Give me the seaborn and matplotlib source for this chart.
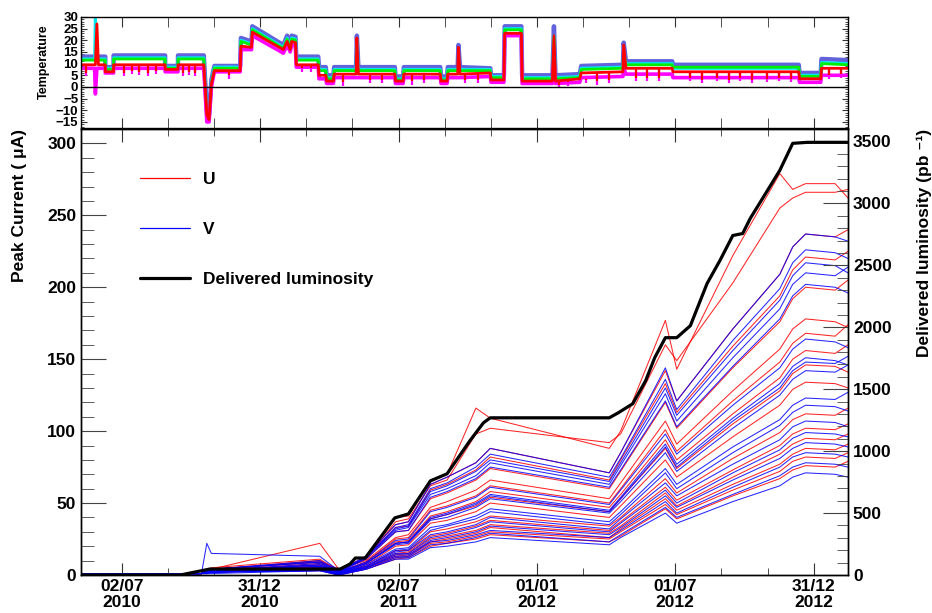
import pandas as pd
import seaborn as sns
import matplotlib.pyplot as plt
from matplotlib.lines import Line2D
from matplotlib.ticker import MultipleLocator

sns.set_style('ticks')
plt.rcParams['font.family'] = ['Liberation Sans', 'DejaVu Sans']
plt.rcParams['font.weight'] = 'bold'
plt.rcParams['axes.labelweight'] = 'bold'
plt.rcParams['text.color'] = 'black'

# === Peak current per channel, read at common dates ===
CUR_DATES = ["2010-05-09", "2010-10-15", "2010-10-22", "2010-10-28", "2011-03-20",
             "2011-04-14", "2011-05-20", "2011-06-28", "2011-07-15", "2011-08-13",
             "2011-09-04", "2011-10-12", "2011-10-31", "2012-04-05", "2012-04-20",
             "2012-06-18", "2012-07-03", "2012-09-15", "2012-11-16", "2012-12-03",
             "2012-12-20", "2013-01-28", "2013-02-14"]

U_CURRENT = [
    [1, 1, 4, 4, 9, 3, 12, 40, 41, 66, 70, 116, 109, 88, 100, 177, 143, 222, 279, 268, 272, 272, 262],
    [0, 1, 3, 3, 10, 4, 11, 37, 39, 62, 66, 98, 102, 92, 98, 160, 149, 203, 255, 262, 266, 266, 268],
    [1, 1, 4, 5, 11, 3, 13, 35, 37, 63, 68, 78, 88, 71, 85, 142, 121, 171, 209, 228, 237, 235, 240],
    [1, 1, 3, 4, 10, 2, 12, 33, 34, 59, 63, 73, 82, 66, 80, 133, 113, 159, 194, 212, 221, 219, 225],
    [1, 1, 4, 4, 9, 3, 11, 30, 31, 53, 57, 66, 74, 60, 72, 120, 102, 144, 176, 192, 200, 198, 205],
    [0, 1, 3, 4, 22, 4, 10, 26, 28, 47, 51, 59, 66, 53, 64, 107, 91, 128, 157, 171, 178, 176, 172],
    [1, 1, 3, 3, 8, 2, 9, 25, 26, 45, 48, 55, 62, 50, 60, 101, 86, 121, 148, 161, 168, 166, 174],
    [1, 1, 3, 3, 7, 2, 9, 23, 24, 41, 44, 51, 58, 47, 56, 94, 80, 112, 137, 150, 156, 154, 160],
    [1, 1, 2, 3, 7, 2, 8, 22, 23, 39, 42, 48, 54, 44, 53, 88, 74, 105, 128, 140, 146, 145, 141],
    [0, 1, 3, 3, 6, 1, 7, 20, 21, 36, 38, 44, 50, 40, 48, 80, 68, 96, 118, 129, 134, 133, 130],
    [1, 1, 2, 2, 6, 2, 6, 17, 17, 30, 32, 37, 41, 34, 40, 67, 57, 81, 99, 108, 112, 111, 116],
    [0, 1, 2, 3, 5, 1, 6, 15, 16, 27, 29, 34, 38, 31, 37, 61, 52, 73, 90, 98, 102, 101, 105],
    [1, 1, 2, 2, 5, 1, 5, 14, 15, 25, 27, 31, 35, 29, 34, 57, 48, 68, 84, 91, 95, 94, 98],
    [0, 1, 2, 2, 4, 1, 5, 13, 14, 23, 25, 29, 33, 26, 32, 53, 45, 63, 77, 84, 88, 87, 91],
    [1, 1, 2, 2, 4, 1, 5, 12, 13, 22, 23, 27, 30, 25, 30, 49, 42, 59, 72, 79, 82, 81, 85],
    [0, 1, 1, 2, 3, 0, 4, 11, 12, 20, 22, 25, 28, 23, 27, 46, 39, 55, 67, 73, 76, 75, 79],
]

V_CURRENT = [
    [1, 1, 22, 15, 13, 3, 13, 35, 37, 63, 68, 78, 88, 71, 85, 144, 121, 171, 209, 228, 237, 235, 232],
    [1, 1, 4, 4, 10, 3, 12, 33, 35, 60, 64, 75, 84, 68, 81, 136, 115, 163, 199, 217, 226, 224, 220],
    [0, 1, 3, 4, 9, 2, 12, 32, 34, 58, 62, 72, 80, 65, 78, 130, 111, 156, 191, 208, 217, 215, 210],
    [1, 1, 3, 4, 9, 3, 12, 31, 33, 56, 60, 69, 78, 63, 76, 126, 107, 151, 185, 202, 210, 208, 214],
    [1, 1, 3, 3, 8, 2, 11, 30, 31, 54, 58, 67, 75, 61, 73, 121, 103, 145, 178, 194, 202, 200, 196],
    [0, 1, 3, 3, 7, 2, 9, 24, 25, 44, 47, 54, 61, 49, 59, 98, 84, 118, 144, 157, 164, 162, 158],
    [1, 1, 2, 3, 7, 2, 8, 22, 23, 40, 43, 50, 56, 45, 54, 91, 77, 109, 133, 145, 151, 149, 146],
    [1, 1, 3, 3, 6, 2, 8, 22, 23, 39, 42, 49, 55, 44, 53, 89, 75, 107, 130, 142, 148, 147, 152],
    [0, 1, 2, 3, 6, 1, 8, 21, 22, 38, 40, 47, 53, 43, 51, 85, 72, 102, 125, 136, 142, 141, 146],
    [1, 1, 2, 2, 5, 1, 7, 18, 19, 33, 35, 41, 46, 37, 44, 74, 63, 89, 108, 118, 123, 122, 127],
    [0, 1, 2, 2, 5, 1, 6, 17, 18, 31, 34, 39, 44, 35, 42, 71, 60, 85, 104, 113, 118, 117, 114],
    [1, 1, 2, 2, 4, 1, 6, 16, 17, 28, 30, 35, 40, 32, 39, 64, 55, 77, 94, 103, 107, 106, 103],
    [0, 1, 2, 2, 4, 1, 5, 15, 15, 26, 28, 33, 37, 30, 36, 59, 50, 71, 87, 95, 99, 98, 96],
    [1, 1, 1, 2, 4, 0, 5, 14, 14, 24, 26, 30, 34, 28, 33, 55, 47, 66, 81, 88, 92, 91, 89],
    [0, 1, 1, 2, 3, 1, 5, 13, 13, 23, 24, 28, 31, 26, 31, 51, 43, 61, 75, 82, 85, 84, 82],
    [1, 1, 1, 2, 3, 0, 4, 12, 12, 21, 22, 26, 29, 23, 28, 47, 40, 56, 69, 75, 78, 77, 75],
    [0, 1, 1, 1, 3, 0, 4, 11, 11, 19, 20, 23, 26, 21, 26, 43, 36, 51, 62, 68, 71, 70, 68],
]

# === Delivered luminosity (pb^-1) ===
LUMI_DATES = ["2010-05-09", "2010-09-17", "2010-10-26", "2011-04-16", "2011-04-29",
              "2011-05-06", "2011-05-19", "2011-06-27", "2011-07-15", "2011-08-13",
              "2011-09-04", "2011-10-04", "2011-10-22", "2011-10-31", "2012-04-05",
              "2012-04-17", "2012-05-06", "2012-05-23", "2012-06-04", "2012-06-18",
              "2012-07-03", "2012-07-21", "2012-08-12", "2012-08-29", "2012-09-15",
              "2012-09-28", "2012-10-08", "2012-10-21", "2012-11-16", "2012-12-03",
              "2012-12-22", "2013-02-14"]
LUMI = [0, 0, 48, 48, 89, 137, 137, 461, 493, 760, 817, 1083, 1229, 1269, 1269,
        1310, 1383, 1569, 1755, 1916, 1916, 2013, 2353, 2539, 2741, 2757, 2879,
        3008, 3267, 3485, 3493, 3493]

# === Temperature sensors (top pad) ===
TEMP_DATES = ["2010-05-09", "2010-05-27", "2010-05-28", "2010-05-30", "2010-06-01",
              "2010-06-10", "2010-06-10", "2010-06-21", "2010-06-21", "2010-08-28",
              "2010-08-28", "2010-09-14", "2010-09-14", "2010-10-18", "2010-10-22",
              "2010-10-25", "2010-10-28", "2010-11-01", "2010-12-05", "2010-12-06",
              "2010-12-20", "2010-12-21", "2011-01-31", "2011-02-05", "2011-02-09",
              "2011-02-11", "2011-02-16", "2011-02-17", "2011-03-18", "2011-03-19",
              "2011-03-28", "2011-03-29", "2011-04-07", "2011-04-08", "2011-05-07",
              "2011-05-08", "2011-05-10", "2011-06-27", "2011-06-28", "2011-07-08",
              "2011-07-09", "2011-08-26", "2011-08-27", "2011-09-04", "2011-09-05",
              "2011-09-18", "2011-09-19", "2011-09-21", "2011-10-31", "2011-11-01",
              "2011-11-18", "2011-11-19", "2011-12-11", "2011-12-12", "2012-01-21",
              "2012-01-23", "2012-01-25", "2012-02-26", "2012-02-28", "2012-04-23",
              "2012-04-24", "2012-04-27", "2012-06-27", "2012-06-28", "2012-12-11",
              "2012-12-12", "2013-01-09", "2013-01-10", "2013-02-14"]
TEMP_BLUE = [13, 13, 13, 13, 13, 13, 8.5, 8.5, 13.5, 13.5, 9, 9, 13.5, 13.5, -10, -12, 3, 9, 9, 21,
             19.5, 26, 18, 22, 18, 22, 21.5, 13, 13, 8.5, 8.5, 5, 5, 8.5, 8.5, 22, 8.5, 8.5, 4.5, 4.5,
             8.5, 8.5, 4.5, 4.5, 8.5, 8.5, 18, 8.5, 8, 5, 5, 26, 26, 5, 5, 26, 5, 5.5, 9, 9.5,
             19, 11, 11, 9.5, 9.5, 6, 6, 12, 11.5]
TEMP_CYAN = [12, 12, 30, 12, 12, 12, 8, 8, 12.5, 12.5, 8.5, 8.5, 12.5, 12.5, -11, -13, 2, 8.5, 8.5, 20,
             18.5, 25, 17, 21, 17, 21, 20.5, 12, 12, 7.5, 7.5, 4, 4, 7.5, 7.5, 20, 7.5, 7.5, 3.5, 3.5,
             7.5, 7.5, 3.5, 3.5, 7.5, 7.5, 8, 7.5, 7.5, 4.5, 4.5, 25, 25, 4, 4, 22, 4, 4.5, 8, 8.5,
             15, 10, 10, 8, 8, 5, 5, 10.5, 10]
TEMP_GREEN = [11.5, 11.5, 11.5, 11.5, 11.5, 11.5, 7.5, 7.5, 12, 12, 8, 8, 12, 12, -11, -13, 2, 8, 8, 19.5,
              18, 24.5, 16.5, 20.5, 16.5, 20.5, 20, 11.5, 11.5, 7, 7, 3.5, 3.5, 7, 7, 7.5, 7, 7, 3, 3,
              7, 7, 3, 3, 7, 7, 7.5, 7, 7, 4, 4, 24.5, 24.5, 3.5, 3.5, 21, 3.5, 4, 7.5, 8,
              14, 9.5, 9.5, 8.5, 8.5, 4.5, 4.5, 10, 9.5]
TEMP_MAGENTA = [8, 8, -3, 8, 8, 8, 6, 6, 8, 8, 6.5, 6.5, 8, 8, -15, -15, 0, 6.5, 6.5, 16,
                16, 22, 14.5, 18, 15, 18, 17.5, 8.5, 8.5, 3.5, 3.5, 1.5, 1.5, 4, 4, 4, 4, 4, 1.5, 1.5,
                4, 4, 1.5, 1.5, 4, 4, 4, 4, 4.5, 2, 2, 22, 22, 1.5, 1.5, 15, 1.5, 2, 4, 4.5,
                8, 5.5, 5.5, 4, 4, 2, 2, 5, 5]
TEMP_RED = [9.5, 9.5, 9.5, 27, 9.5, 9.5, 6.5, 6.5, 9.5, 9.5, 7.5, 7.5, 9.5, 9.5, -12, -14, 1, 7, 7, 17.5,
            17, 23.5, 16, 19.5, 16, 19.5, 19, 9.5, 9.5, 5, 5, 2.5, 2.5, 5.5, 5.5, 21, 5.5, 5.5, 2.5, 2.5,
            5.5, 5.5, 2.5, 2.5, 5.5, 5.5, 17, 5.5, 6, 3, 3, 23, 23, 2.5, 2.5, 22, 2.5, 3.5, 6, 6.5,
            18, 8, 8, 6.5, 6.5, 3.5, 3.5, 8, 8]

# short downward excursions of the red / magenta sensors
DIP_DATES = ["2010-05-15", "2010-07-05", "2010-07-15", "2010-07-24", "2010-08-05", "2010-08-16",
             "2010-09-20", "2010-09-28", "2010-10-06", "2010-11-20", "2011-02-25", "2011-03-08",
             "2011-04-20", "2011-05-25", "2011-06-10", "2011-07-20", "2011-08-05", "2011-09-28",
             "2011-10-15", "2012-01-30", "2012-02-10", "2012-03-05", "2012-03-20", "2012-04-05",
             "2012-05-10", "2012-05-25", "2012-06-10", "2012-07-20", "2012-08-05", "2012-08-25",
             "2012-09-10", "2012-09-25", "2012-10-10", "2012-10-30", "2012-11-15", "2012-12-01",
             "2013-01-20", "2013-02-05"]
DIP_LOW = [6, 6, 7, 6.5, 6, 7, 6, 6.5, 6, 5, 8, 8,
           2, 3, 3, 2.5, 3, 3, 3, 1, 2, 3, 2.5, 3,
           4, 4, 4, 4, 3, 4, 3, 4, 3, 3.5, 4, 3.5,
           5, 5.5]
DIP_TOP = [9.5, 9.5, 9.5, 9.5, 9.5, 9.5, 9.5, 9.5, 9.5, 7, 9.5, 9.5,
           5.5, 5.5, 5.5, 5.5, 5.5, 5.5, 5.5, 2.5, 2.5, 3.5, 6, 6,
           8, 8, 8, 6.5, 6.5, 6.5, 6.5, 6.5, 6.5, 6.5, 6.5, 6.5,
           8, 8]

TICK_DATES = ["2010-07-02", "2010-12-31", "2011-07-02", "2012-01-01", "2012-07-01", "2012-12-31"]
TICK_LABELS = ["02/07\n2010", "31/12\n2010", "02/07\n2011", "01/01\n2012", "01/07\n2012", "31/12\n2012"]
X_START, X_END = "2010-05-09", "2013-02-14"


def long_frame(rows, view):
    recs = []
    for i, vals in enumerate(rows):
        for d, v in zip(CUR_DATES, vals):
            recs.append({'date': d, 'current': v, 'channel': f'{view}{i}'})
    out = pd.DataFrame(recs)
    out['date'] = pd.to_datetime(out['date'])
    return out


df_u = long_frame(U_CURRENT, 'U')
df_v = long_frame(V_CURRENT, 'V')
df_lumi = pd.DataFrame({'date': pd.to_datetime(LUMI_DATES), 'lumi': LUMI})
df_temp = pd.DataFrame({'date': pd.to_datetime(TEMP_DATES), 'blue': TEMP_BLUE, 'cyan': TEMP_CYAN,
                        'green': TEMP_GREEN, 'magenta': TEMP_MAGENTA, 'red': TEMP_RED})

# === Figure: two pads like the ROOT canvas ===
fig = plt.figure(figsize=(9.32, 6.13), dpi=100)
ax_t = fig.add_axes([0.0869, 0.7912, 0.8230, 0.1811])
ax = fig.add_axes([0.0869, 0.0620, 0.8230, 0.7276])
ax2 = ax.twinx()

x0, x1 = pd.Timestamp(X_START), pd.Timestamp(X_END)
majors = pd.to_datetime(TICK_DATES)
minors = [a + (b - a) * k / 3 for a, b in zip(majors[:-1], majors[1:]) for k in (1, 2)]

# --- temperature pad ---
for col, color, lw in [('blue', '#6262dc', 3.2), ('cyan', '#00e8f0', 2.2), ('green', '#00ee00', 2.0),
                       ('magenta', '#ff00ff', 2.6), ('red', '#ff0000', 2.0)]:
    sns.lineplot(data=df_temp, x='date', y=col, color=color, lw=lw, sort=False,
                 estimator=None, ax=ax_t, legend=False)
dips = pd.to_datetime(DIP_DATES)
ax_t.vlines(dips, [v - 1.5 for v in DIP_LOW], DIP_TOP, color='#ff00ff', lw=1.6)
ax_t.vlines(dips, DIP_LOW, DIP_TOP, color='#ff0000', lw=1.6)
ax_t.axhline(0, color='black', lw=1)
ax_t.set_xlim(x0, x1)
ax_t.set_ylim(-17.6, 30)
ax_t.set_xlabel('')
ax_t.set_ylabel('')
ax_t.yaxis.set_major_locator(MultipleLocator(5))
ax_t.yaxis.set_minor_locator(MultipleLocator(1))
ax_t.set_xticks(majors)
ax_t.set_xticks(minors, minor=True)
ax_t.tick_params(axis='y', which='both', direction='in', left=True, right=True, labelsize=9.5,
                 pad=2, labelcolor='black', color='#333333')
ax_t.tick_params(axis='y', which='major', length=4)
ax_t.tick_params(axis='y', which='minor', length=2.5)
ax_t.tick_params(axis='x', which='both', direction='in', top=True, bottom=True,
                 labelbottom=False, length=7, color='#333333')
fig.text(44 / 932, 1 - 24 / 613, 'Temperature', rotation=90, ha='center', va='top',
         fontsize=9, fontweight='bold')

# --- peak currents ---
sns.lineplot(data=df_u, x='date', y='current', units='channel', estimator=None,
             color='#ff0000', lw=0.75, alpha=0.85, ax=ax, legend=False)
sns.lineplot(data=df_v, x='date', y='current', units='channel', estimator=None,
             color='#0000ff', lw=0.75, alpha=0.85, ax=ax, legend=False)
ax.set_xlim(x0, x1)
ax.set_ylim(0, 310)
ax.set_xlabel('')
ax.set_ylabel('')
ax.yaxis.set_major_locator(MultipleLocator(50))
ax.yaxis.set_minor_locator(MultipleLocator(10))
ax.set_xticks(majors)
ax.set_xticks(minors, minor=True)
ax.set_xticklabels(TICK_LABELS, linespacing=1.05)
ax.tick_params(axis='x', which='both', direction='in', top=True, bottom=True, labelsize=12.5,
               pad=3, labelcolor='black', color='#333333')
ax.tick_params(axis='x', which='major', length=9)
ax.tick_params(axis='x', which='minor', length=5)
ax.tick_params(axis='y', which='both', direction='in', left=True, right=False,
               labelsize=12.5, color='#444444', labelcolor='black')
ax.tick_params(axis='y', which='major', length=18)
ax.tick_params(axis='y', which='minor', length=9)

# --- delivered luminosity on right axis ---
sns.lineplot(data=df_lumi, x='date', y='lumi', color='black', lw=2.3, estimator=None,
             ax=ax2, legend=False)
ax2.set_ylim(0, 3601)
ax2.set_xlim(x0, x1)
ax2.set_ylabel('')
ax2.yaxis.set_major_locator(MultipleLocator(500))
ax2.yaxis.set_minor_locator(MultipleLocator(100))
ax2.tick_params(axis='y', which='both', direction='in', right=True, labelsize=12.5,
                color='#444444', labelcolor='black')
ax2.tick_params(axis='y', which='major', length=18)
ax2.tick_params(axis='y', which='minor', length=8)

for a in (ax_t, ax, ax2):
    for s in a.spines.values():
        s.set_color('black')
        s.set_linewidth(1.0)

fig.text(20 / 932, 1 - 129 / 613, 'Peak Current ( \u03bcA)', rotation=90, ha='center',
         va='top', fontsize=12.5, fontweight='bold')
fig.text(924 / 932, 1 - 129 / 613, 'Delivered luminosity (pb \u207b\u00b9)', rotation=90,
         ha='center', va='top', fontsize=12.5, fontweight='bold')

legend_elements = [
    Line2D([0], [0], color='#ff0000', lw=0.9, label='U'),
    Line2D([0], [0], color='#0000ff', lw=0.9, label='V'),
    Line2D([0], [0], color='black', lw=2.3, label='Delivered luminosity'),
]
ax2.legend(handles=legend_elements, loc='upper left', bbox_to_anchor=(0.077, 0.904),
           frameon=False, handlelength=2.9, handletextpad=0.7, labelspacing=2.0,
           borderpad=0, borderaxespad=0, prop={'size': 12.5, 'weight': 'bold'})

plt.savefig('out.png', dpi=100)
